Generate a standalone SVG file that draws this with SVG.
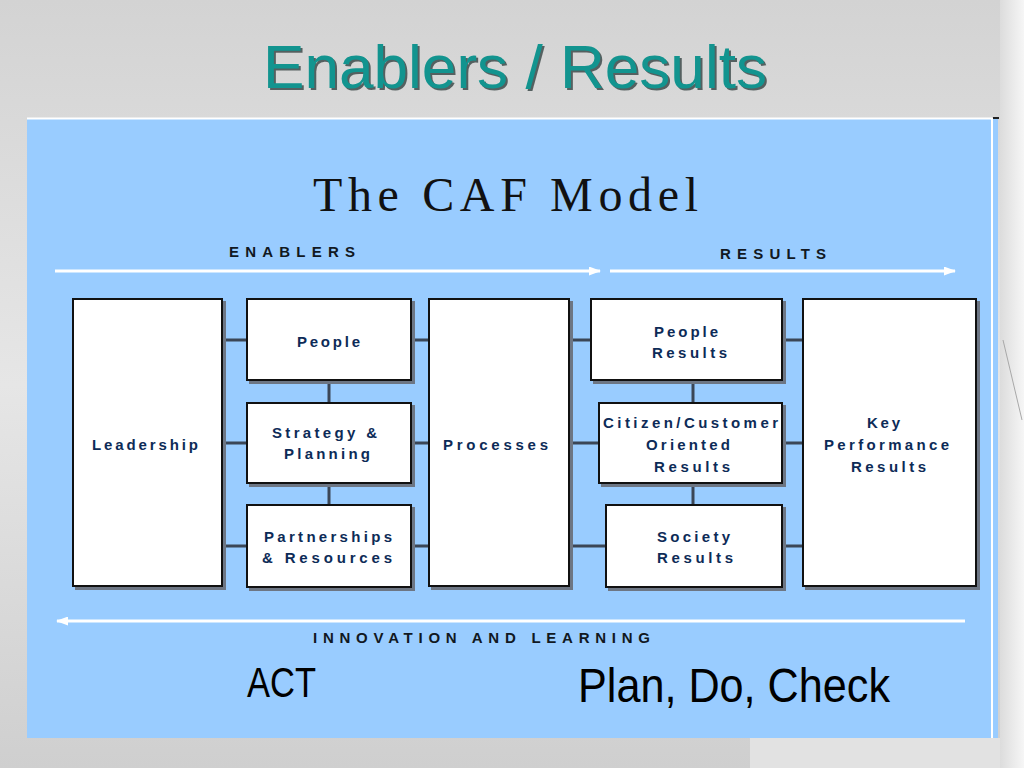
<svg xmlns="http://www.w3.org/2000/svg" width="1024" height="768" viewBox="0 0 1024 768">
  <defs>
    <linearGradient id="bg" x1="0" y1="0" x2="0" y2="1">
      <stop offset="0" stop-color="#d3d3d3"/>
      <stop offset="0.5" stop-color="#e6e6e6"/>
      <stop offset="1" stop-color="#cfcfcf"/>
    </linearGradient>
    <linearGradient id="edge" x1="0" y1="0" x2="1" y2="0">
      <stop offset="0" stop-color="#dcdcdc"/>
      <stop offset="1" stop-color="#f6f6f6"/>
    </linearGradient>
    <marker id="head" markerUnits="userSpaceOnUse" markerWidth="12" markerHeight="9" refX="11" refY="4.5" orient="auto">
      <path d="M0,0 L12,4.5 L0,9 z" fill="#ffffff"/>
    </marker>
    <style>
      .box { fill: #ffffff; stroke: #111111; stroke-width: 2; }
      .shadow { fill: #6d7684; }
      .conn { stroke: #3b4656; stroke-width: 3; fill: none; }
      .flow { stroke: #ffffff; stroke-width: 3; fill: none; marker-end: url(#head); }
      .lbl { font-family: "Liberation Sans", Arial, sans-serif; font-weight: bold; font-size: 15px; fill: #0d2b57; }
      .hdr { font-family: "Liberation Sans", Arial, sans-serif; font-weight: bold; font-size: 15px; fill: #111822; }
      .big { font-family: "Liberation Sans", Arial, sans-serif; fill: #000000; }
    </style>
  </defs>

  <!-- background -->
  <rect x="0" y="0" width="1024" height="768" fill="url(#bg)"/>
  <rect x="1000" y="0" width="24" height="768" fill="url(#edge)"/>
  <rect x="750" y="738" width="250" height="30" fill="#e2e2e2"/>
  <line x1="1003" y1="340" x2="1022" y2="420" stroke="#a8a8a8" stroke-width="1"/>

  <!-- slide title -->
  <g id="title">
    <text x="265" y="90" font-family="'Liberation Sans', Arial, sans-serif" font-size="61" fill="#1e2e2e" fill-opacity="0.7" textLength="504" lengthAdjust="spacingAndGlyphs">Enablers / Results</text>
    <text x="263" y="88" font-family="'Liberation Sans', Arial, sans-serif" font-size="61" fill="#12948f" textLength="504" lengthAdjust="spacingAndGlyphs">Enablers / Results</text>
  </g>

  <!-- blue panel -->
  <g id="panel">
    <rect x="27" y="118" width="971" height="620" fill="#99ccff"/>
    <line x1="27" y1="118.5" x2="992" y2="118.5" stroke="#ffffff" stroke-width="2"/>
    <line x1="992" y1="118" x2="992" y2="738" stroke="#ffffff" stroke-width="2"/>
    <line x1="993" y1="118" x2="999" y2="118" stroke="#222222" stroke-width="2"/>
  </g>

  <text x="313" y="211" font-family="'Liberation Serif', 'Times New Roman', serif" font-size="48" fill="#111111" textLength="385" lengthAdjust="spacing">The CAF Model</text>

  <text class="hdr" x="229" y="257" textLength="126" lengthAdjust="spacing">ENABLERS</text>
  <text class="hdr" x="720" y="259" textLength="106" lengthAdjust="spacing">RESULTS</text>
  <text class="hdr" x="313" y="643" textLength="337" lengthAdjust="spacing">INNOVATION AND LEARNING</text>

  <!-- flow arrows -->
  <g id="flow-arrows">
    <line class="flow" x1="55" y1="271" x2="600" y2="271"/>
    <line class="flow" x1="610" y1="271" x2="955" y2="271"/>
    <line class="flow" x1="965" y1="621" x2="57" y2="621"/>
  </g>

  <!-- connectors -->
  <g id="connectors">
    <line class="conn" x1="222" y1="340" x2="802" y2="340"/>
    <line class="conn" x1="222" y1="443" x2="802" y2="443"/>
    <line class="conn" x1="222" y1="546" x2="802" y2="546"/>
    <line class="conn" x1="329" y1="380" x2="329" y2="404"/>
    <line class="conn" x1="329" y1="483" x2="329" y2="506"/>
    <line class="conn" x1="693" y1="380" x2="693" y2="404"/>
    <line class="conn" x1="693" y1="483" x2="693" y2="506"/>
  </g>

  <!-- nodes -->
  <g id="leadership">
    <rect class="shadow" x="75" y="301" width="151" height="289"/>
    <rect class="box" x="73" y="299" width="149" height="287"/>
    <text class="lbl" x="92" y="450" textLength="106" lengthAdjust="spacing">Leadership</text>
  </g>
  <g id="people">
    <rect class="shadow" x="249" y="301" width="166" height="83"/>
    <rect class="box" x="247" y="299" width="164" height="81"/>
    <text class="lbl" x="297" y="347" textLength="63" lengthAdjust="spacing">People</text>
  </g>
  <g id="strategy-planning">
    <rect class="shadow" x="249" y="405" width="166" height="82"/>
    <rect class="box" x="247" y="403" width="164" height="80"/>
    <text class="lbl" x="272" y="438" textLength="105" lengthAdjust="spacing">Strategy &amp;</text>
    <text class="lbl" x="284" y="459" textLength="86" lengthAdjust="spacing">Planning</text>
  </g>
  <g id="partnerships-resources">
    <rect class="shadow" x="249" y="507" width="166" height="84"/>
    <rect class="box" x="247" y="505" width="164" height="82"/>
    <text class="lbl" x="264" y="542" textLength="128" lengthAdjust="spacing">Partnerships</text>
    <text class="lbl" x="262" y="563" textLength="130" lengthAdjust="spacing">&amp; Resources</text>
  </g>
  <g id="processes">
    <rect class="shadow" x="431" y="301" width="142" height="289"/>
    <rect class="box" x="429" y="299" width="140" height="287"/>
    <text class="lbl" x="443" y="450" textLength="105" lengthAdjust="spacing">Processes</text>
  </g>
  <g id="people-results">
    <rect class="shadow" x="593" y="301" width="193" height="83"/>
    <rect class="box" x="591" y="299" width="191" height="81"/>
    <text class="lbl" x="654" y="337" textLength="64" lengthAdjust="spacing">People</text>
    <text class="lbl" x="652" y="358" textLength="75" lengthAdjust="spacing">Results</text>
  </g>
  <g id="citizen-customer-results">
    <rect class="shadow" x="601" y="405" width="185" height="82"/>
    <rect class="box" x="599" y="403" width="183" height="80"/>
    <text class="lbl" x="603" y="428" textLength="175" lengthAdjust="spacing">Citizen/Customer</text>
    <text class="lbl" x="646" y="450" textLength="84" lengthAdjust="spacing">Oriented</text>
    <text class="lbl" x="654" y="472" textLength="76" lengthAdjust="spacing">Results</text>
  </g>
  <g id="society-results">
    <rect class="shadow" x="608" y="507" width="178" height="84"/>
    <rect class="box" x="606" y="505" width="176" height="82"/>
    <text class="lbl" x="657" y="542" textLength="73" lengthAdjust="spacing">Society</text>
    <text class="lbl" x="657" y="563" textLength="76" lengthAdjust="spacing">Results</text>
  </g>
  <g id="key-performance-results">
    <rect class="shadow" x="805" y="301" width="175" height="289"/>
    <rect class="box" x="803" y="299" width="173" height="287"/>
    <text class="lbl" x="867" y="428" textLength="33" lengthAdjust="spacing">Key</text>
    <text class="lbl" x="824" y="450" textLength="125" lengthAdjust="spacing">Performance</text>
    <text class="lbl" x="851" y="472" textLength="75" lengthAdjust="spacing">Results</text>
  </g>

  <text class="big" x="247" y="697" font-size="42" textLength="69" lengthAdjust="spacingAndGlyphs">ACT</text>
  <text class="big" x="578" y="702" font-size="48" textLength="312" lengthAdjust="spacingAndGlyphs">Plan, Do, Check</text>
</svg>
